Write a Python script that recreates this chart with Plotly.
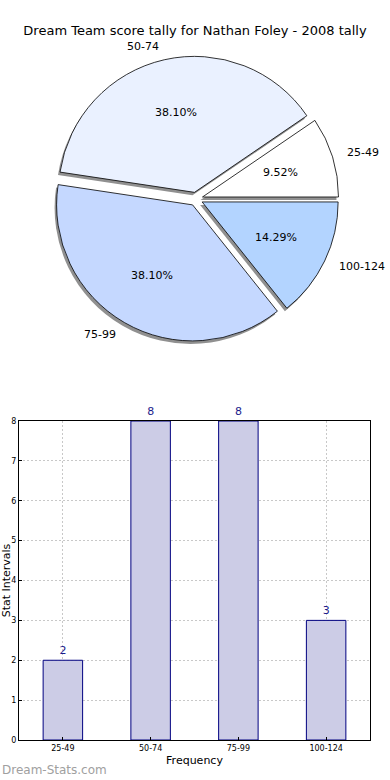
import math
import plotly.graph_objects as go

categories = ["25-49", "50-74", "75-99", "100-124"]
counts = [2, 8, 8, 3]
pie_colors = ["#ffffff", "#eaf1ff", "#c5d8ff", "#b3d4ff"]
pulls = [0.05, 0.05, 0.05, 0.05]
y_ticks = [0, 1, 2, 3, 4, 5, 6, 7, 8]

W, H = 390, 780
ml, mr, mt, mb = 19, 20, 0, 40
pw, ph = W - ml - mr, H - mt - mb


def fx(x):
    return (x - ml) / pw


def fy(y):
    return (H - mb - y) / ph


FONT = "DejaVu Sans"
cx, cy, r = 196, 199, 136
half = r * (1 + max(pulls))
dom_x = [fx(cx - half), fx(cx + half)]
dom_y = [fy(cy + half), fy(cy - half)]
sdx, sdy = -2, 3
shadow_x = [fx(cx - half + sdx), fx(cx + half + sdx)]
shadow_y = [fy(cy + half + sdy), fy(cy - half + sdy)]

total = sum(counts)
# first slice starts at 3 o'clock and runs counterclockwise (matplotlib style)
rot = 90 - 360 * counts[0] / total

fig = go.Figure()

pie_common = dict(labels=categories, values=counts, sort=False,
                  direction="counterclockwise", rotation=rot, pull=pulls,
                  showlegend=False)

# shadow
fig.add_trace(go.Pie(
    **pie_common, domain=dict(x=shadow_x, y=shadow_y),
    marker=dict(colors=["#909090"] * 4, line=dict(width=0)),
    textinfo="none", hoverinfo="skip",
))
# main pie
fig.add_trace(go.Pie(
    **pie_common, domain=dict(x=dom_x, y=dom_y),
    marker=dict(colors=pie_colors, line=dict(color="#000000", width=0.8)),
    textinfo="none",
    hovertemplate="%{label}: %{percent:.2%}<extra></extra>",
))

# labels and percentages placed like matplotlib (labeldistance 1.1, pctdistance 0.6)
annotations = []
cum = 0
for lab, v, pl in zip(categories, counts, pulls):
    mid = math.radians(360 * (cum + v / 2) / total)
    cum += v
    c, s = math.cos(mid), math.sin(mid)
    px_ = cx + (pl + 0.6) * r * c
    py_ = cy - (pl + 0.6) * r * s
    annotations.append(dict(text=f"{100 * v / total:.2f}%", x=fx(px_), y=fy(py_),
                            xref="paper", yref="paper", showarrow=False,
                            xanchor="center", yanchor="middle",
                            font=dict(family=FONT, size=11, color="#000000")))
    lx = cx + (pl + 1.1) * r * c
    ly = cy - (pl + 1.1) * r * s
    annotations.append(dict(text=lab, x=fx(lx), y=fy(ly),
                            xref="paper", yref="paper", showarrow=False,
                            xanchor="left" if c > 0 else "right", yanchor="middle",
                            font=dict(family=FONT, size=11, color="#000000")))

annotations.append(dict(text="Dream-Stats.com", xref="paper", yref="paper",
                        x=fx(0), y=fy(770), xanchor="left", yanchor="middle",
                        showarrow=False,
                        font=dict(family=FONT, size=12, color="#a0a0a0")))

fig.add_trace(go.Bar(
    x=categories, y=counts, width=0.45,
    marker=dict(color="#ccccE6", line=dict(color="#000080", width=1)),
    text=counts, textposition="outside", cliponaxis=False,
    textfont=dict(family=FONT, size=11, color="#1c1c8c"),
    showlegend=False,
))

grid = dict(showgrid=True, gridcolor="#c8c8c8", griddash="2px,2px", gridwidth=1,
            showline=True, linecolor="#000000", linewidth=1, mirror=True,
            ticks="inside", ticklen=3, tickcolor="#000000",
            tickfont=dict(size=8, color="#000000"),
            zeroline=False, automargin=False)

fig.update_layout(
    width=W, height=H,
    margin=dict(l=ml, r=mr, t=mt, b=mb),
    paper_bgcolor="white", plot_bgcolor="white",
    font=dict(family=FONT, color="#000000"),
    title=dict(text="Dream Team score tally for Nathan Foley - 2008 tally",
               x=0.5, xanchor="center", y=1 - 30 / H, yanchor="middle",
               yref="container", font=dict(family=FONT, size=13, color="#000000")),
    xaxis=dict(domain=[0, 1], range=[-0.5, 3.5], type="category",
               title=dict(text="Frequency", font=dict(size=11), standoff=4),
               **grid),
    yaxis=dict(domain=[0, fy(421)], range=[0, 8], tickvals=y_ticks,
               title=dict(text="Stat Intervals", font=dict(size=11), standoff=2),
               **grid),
    annotations=annotations,
)

fig.write_html("out.html", config={"displayModeBar": False},
               post_script="document.body.style.margin='0';document.body.style.padding='0';")
